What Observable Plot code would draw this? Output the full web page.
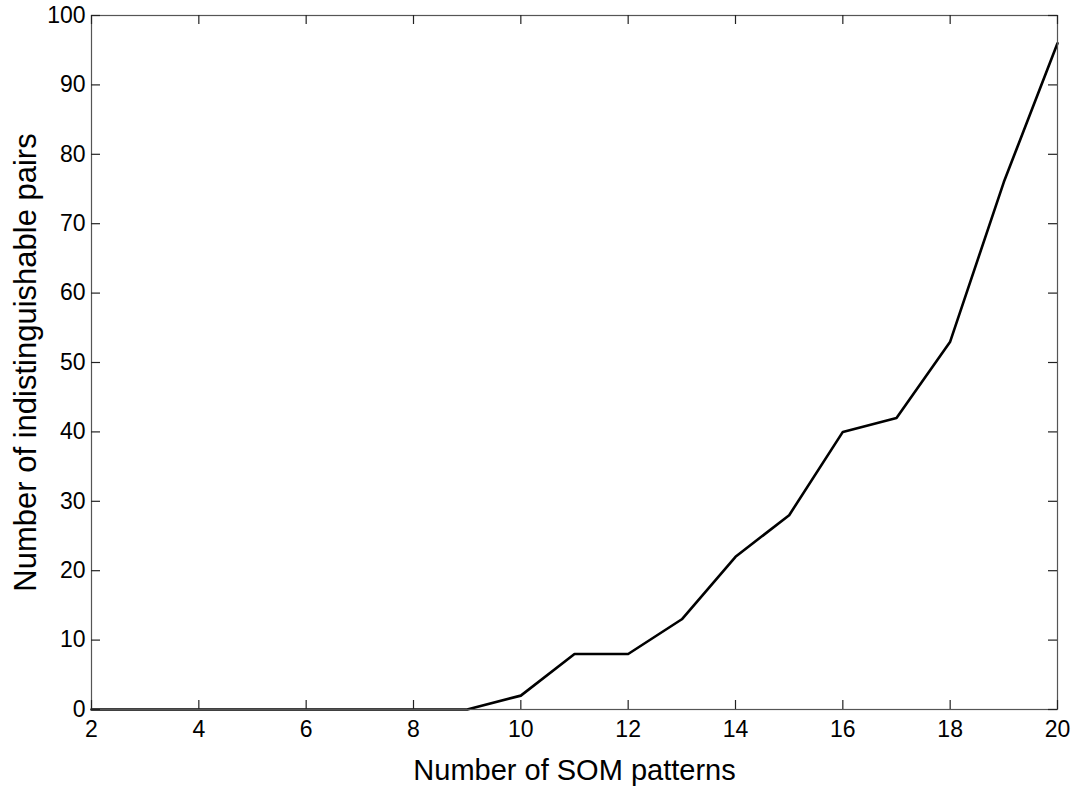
<!DOCTYPE html>
<html>
<head>
<meta charset="utf-8">
<script src="https://cdn.jsdelivr.net/npm/d3@7"></script>
<script src="https://cdn.jsdelivr.net/npm/@observablehq/plot@0.6"></script>
<style>
  html, body { margin: 0; padding: 0; background: #fff; }
  #chart { width: 1077px; height: 795px; }
  svg { font-family: "Liberation Sans", Arial, Helvetica, sans-serif; }
</style>
</head>
<body>
<div id="chart"></div>
<script>
const patterns = [2, 3, 4, 5, 6, 7, 8, 9, 10, 11, 12, 13, 14, 15, 16, 17, 18, 19, 20];
const pairs    = [0, 0, 0, 0, 0, 0, 0, 0, 2, 8, 8, 13, 22, 28, 40, 42, 53, 76, 96];
const xTicks = [2, 4, 6, 8, 10, 12, 14, 16, 18, 20];
const yTicks = [0, 10, 20, 30, 40, 50, 60, 70, 80, 90, 100];
const xLabel = "Number of SOM patterns";
const yLabel = "Number of indistinguishable pairs";

const data = patterns.map((p, i) => ({patterns: p, pairs: pairs[i]}));

const W = 1077, H = 795;
const mL = 91, mR = 20, mT = 15, mB = 86;
const fw = W - mL - mR, fh = H - mT - mB, tl = 9;

const chart = Plot.plot({
  width: W,
  height: H,
  marginLeft: mL,
  marginRight: mR,
  marginTop: mT,
  marginBottom: mB,
  style: {fontSize: "21px", fontFamily: '"Liberation Sans", Arial, sans-serif', color: "#000", background: "#fff"},
  x: {domain: [2, 20], axis: null},
  y: {domain: [0, 100], axis: null},
  marks: [
    Plot.line(data, {x: "patterns", y: "pairs", stroke: "#000", strokeWidth: 2.6}),
    Plot.frame({stroke: "#555", strokeWidth: 1.2}),
    // inward ticks
    Plot.tickX(xTicks, {x: d => d, insetTop: fh - tl, stroke: "#222", strokeWidth: 1.2}),
    Plot.tickX(xTicks, {x: d => d, insetBottom: fh - tl, stroke: "#222", strokeWidth: 1.2}),
    Plot.tickY(yTicks, {y: d => d, insetRight: fw - tl, stroke: "#222", strokeWidth: 1.2}),
    Plot.tickY(yTicks, {y: d => d, insetLeft: fw - tl, stroke: "#222", strokeWidth: 1.2}),
    // tick labels
    Plot.text(xTicks, {x: d => d, frameAnchor: "bottom", dy: 27, text: d => String(d), fontSize: 23, fill: "#000"}),
    Plot.text(yTicks, {y: d => d, frameAnchor: "left", dx: -6, textAnchor: "end", text: d => String(d), fontSize: 23, fill: "#000"}),
    // axis titles
    Plot.text([xLabel], {frameAnchor: "bottom", dy: 70, text: d => d, fontSize: 29, lineAnchor: "bottom", fill: "#000"}),
    Plot.text([yLabel], {frameAnchor: "left", dx: -65, rotate: -90, text: d => d, fontSize: 31, textAnchor: "middle", lineAnchor: "middle", fill: "#000"})
  ]
});
document.getElementById("chart").appendChild(chart);
</script>
</body>
</html>
